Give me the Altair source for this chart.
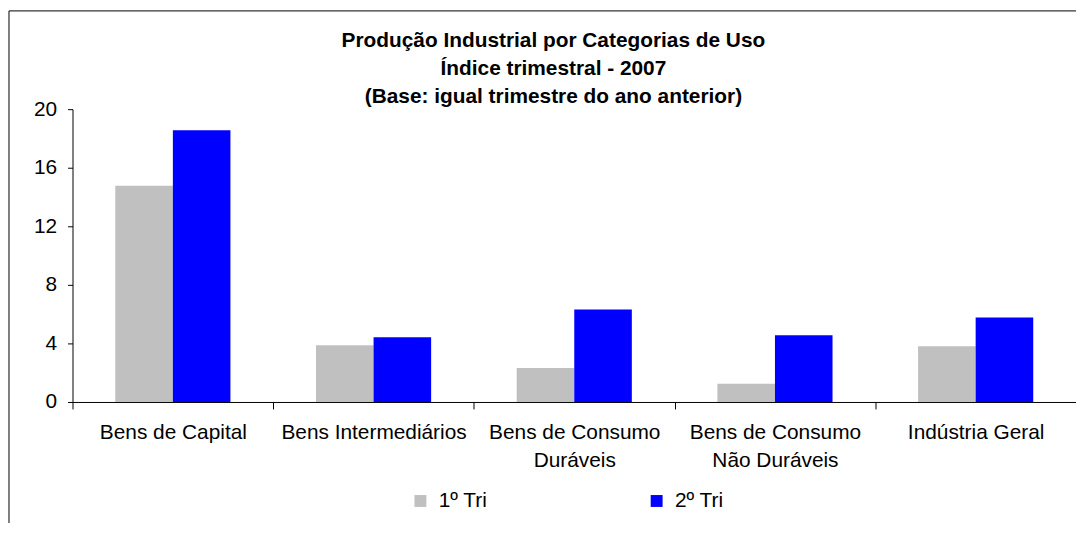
import altair as alt
import pandas as pd

categories = [
    "Bens de Capital",
    "Bens Intermediários",
    "Bens de Consumo\nDuráveis",
    "Bens de Consumo\nNão Duráveis",
    "Indústria Geral",
]
series = ["1º Tri", "2º Tri"]
tri1 = [14.77, 3.88, 2.32, 1.24, 3.81]
tri2 = [18.56, 4.42, 6.31, 4.55, 5.77]
colors = ["#C0C0C0", "#0000FF"]
y_ticks = [0, 4, 8, 12, 16, 20]
title_lines = [
    "Produção Industrial por Categorias de Uso",
    "Índice trimestral - 2007",
    "(Base: igual trimestre do ano anterior)",
]

rows = []
for c, a, b in zip(categories, tri1, tri2):
    rows.append({"cat": c, "serie": series[0], "valor": a})
    rows.append({"cat": c, "serie": series[1], "valor": b})
df = pd.DataFrame(rows)

W, H = 1011, 295
FONT = "Liberation Sans"
FS = 21

bars = alt.Chart(df).mark_bar().encode(
    x=alt.X(
        "cat:N",
        sort=categories,
        scale=alt.Scale(paddingInner=0, paddingOuter=0),
        axis=alt.Axis(
            title=None,
            labelAngle=0,
            labelExpr="split(datum.label, '\\n')",
            labelLimit=400,
            tickBand="extent",
            tickSize=7,
            labelPadding=13,
            labelLineHeight=28,
            labelFontSize=FS,
            labelFont=FONT,
            labelColor="#000",
            domainColor="#000",
            tickColor="#000",
            grid=False,
        ),
    ),
    xOffset=alt.XOffset(
        "serie:N", sort=series, scale=alt.Scale(paddingInner=0, paddingOuter=0.743)
    ),
    y=alt.Y(
        "valor:Q",
        scale=alt.Scale(domain=[0, 20]),
        axis=alt.Axis(
            title=None,
            values=y_ticks,
            grid=False,
            tickSize=5,
            labelPadding=11,
            labelFontSize=FS,
            labelFont=FONT,
            labelColor="#000",
            domainColor="#000",
            tickColor="#000",
        ),
    ),
    color=alt.Color(
        "serie:N",
        sort=series,
        scale=alt.Scale(domain=series, range=colors),
        legend=alt.Legend(
            title=None,
            orient="none",
            legendX=340,
            legendY=384,
            direction="horizontal",
            symbolType="square",
            symbolSize=144,
            symbolStrokeWidth=0,
            labelFontSize=FS,
            labelFont=FONT,
            labelColor="#000",
            labelOffset=8,
            columnPadding=160,
            padding=0,
        ),
    ),
)

frame = alt.Chart(pd.DataFrame({"k": [0]})).mark_rect(
    fillOpacity=0, stroke="#000", strokeWidth=1
).encode(
    x=alt.value(-64), x2=alt.value(W + 60), y=alt.value(-99), y2=alt.value(H + 220)
)

chart = (
    alt.layer(frame, bars)
    .properties(
        width=W,
        height=H,
        background="white",
        title=alt.TitleParams(
            text=title_lines,
            font=FONT,
            fontSize=FS,
            fontWeight="bold",
            color="#000",
            lineHeight=28,
            anchor="middle",
            dx=-21,
            dy=97,
            offset=0,
        ),
        padding={"left": 65, "top": 100, "right": 0, "bottom": 120},
        autosize=alt.AutoSizeParams(type="none"),
    )
    .configure_view(strokeWidth=0, stroke="transparent")
    .configure_axis(grid=False)
)

chart.save("out.html", embed_options={"renderer": "svg", "actions": False})
